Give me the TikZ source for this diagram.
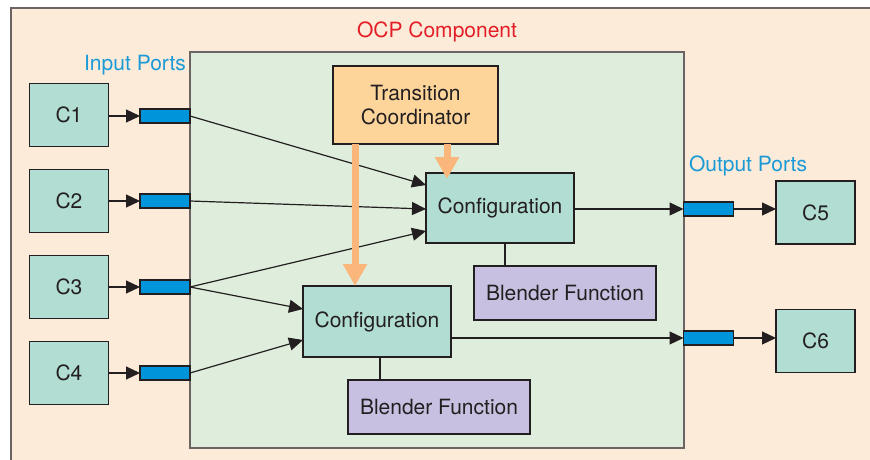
\documentclass[tikz,border=0pt]{standalone}
\usepackage{fontspec}
\setmainfont{TeX Gyre Heros}
\usetikzlibrary{arrows.meta}
\definecolor{peach}{HTML}{FDEBDA}
\definecolor{framegray}{HTML}{6B6462}
\definecolor{panelgreen}{HTML}{DFEEDC}
\definecolor{teal}{HTML}{B2DDD3}
\definecolor{coordorange}{HTML}{FDD59B}
\definecolor{lavender}{HTML}{C8C0E0}
\definecolor{portblue}{HTML}{0095DA}
\definecolor{labelblue}{HTML}{1B9AD6}
\definecolor{titlered}{HTML}{E41E26}
\definecolor{flow}{HTML}{FBB77B}
\definecolor{ink}{HTML}{231F20}
\tikzset{
  base/.style={draw=ink, line width=1.2pt, inner sep=0pt, outer sep=0pt, align=center,
    text=ink, font=\fontsize{21}{24}\selectfont},
  comp/.style={base, fill=teal, minimum width=79pt, minimum height=63pt},
  cfgbox/.style={base, fill=teal, minimum width=148pt, minimum height=70pt},
  blendbox/.style={base, fill=lavender, minimum width=182pt, minimum height=54pt},
  coordbox/.style={base, fill=coordorange, minimum width=165pt, minimum height=78pt},
  port/.style={base, fill=portblue, minimum width=50pt, minimum height=14pt},
  panel/.style={draw=framegray, line width=1.2pt, fill=panelgreen, inner sep=0pt,
    minimum width=494pt, minimum height=396pt},
  conn/.style={draw=ink, line width=1.2pt, -{Triangle[length=14pt,width=13pt]}},
  plain/.style={draw=ink, line width=1.2pt},
  flowarrow/.style={draw=flow, line width=7pt, -{Triangle[length=22pt,width=23pt]}},
  caption/.style={font=\fontsize{21}{24}\selectfont, inner sep=0pt}
}
\begin{document}
\begin{tikzpicture}[x=1pt, y=-1pt]
\useasboundingbox (0,0) rectangle (870,460);
\fill[white] (0,0) rectangle (870,460);
% backdrop with its frame on the top and left
\fill[peach] (11,8) rectangle (880,470);
\draw[framegray, line width=1.2pt] (11,470) -- (11,8) -- (880,8);

% component panel
\node[panel] (ocp) at (437,250) {};
\node[caption, text=titlered] (title) at (437,32) {OCP Component};
\node[caption, text=labelblue] (inlabel) at (135,65) {Input Ports};
\node[caption, text=labelblue] (outlabel) at (748,166) {Output Ports};

% outside components
\node[comp] (c1) at (69,115) {C1};
\node[comp] (c2) at (69,201) {C2};
\node[comp] (c3) at (69,287) {C3};
\node[comp] (c4) at (69,373) {C4};
\node[comp] (c5) at (815.5,212.5) {C5};
\node[comp] (c6) at (815.5,341) {C6};

% ports
\node[port] (p1) at (165,116) {};
\node[port] (p2) at (165,201) {};
\node[port] (p3) at (165,287) {};
\node[port] (p4) at (165,373) {};
\node[port] (q1) at (708.5,209) {};
\node[port] (q2) at (708.5,338) {};

% inner blocks
\node[coordbox] (trans) at (415.5,105) {Transition\\Coordinator};
\node[cfgbox] (cfg1) at (500,208) {Configuration};
\node[blendbox] (blend1) at (565,293) {Blender Function};
\node[cfgbox, minimum height=71pt] (cfg2) at (377,321.5) {Configuration};
\node[blendbox] (blend2) at (439,407) {Blender Function};

% configuration to blender links
\draw[plain] ([xshift=5pt]cfg1.south) -- ([xshift=5pt]cfg1.south |- blend1.north);
\draw[plain] ([xshift=3pt]cfg2.south) -- ([xshift=3pt]cfg2.south |- blend2.north);

% components into input ports
\draw[conn] (c1.east |- p1.west) -- (p1.west);
\draw[conn] (c2.east |- p2.west) -- (p2.west);
\draw[conn] (c3.east |- p3.west) -- (p3.west);
\draw[conn] (c4.east |- p4.west) -- (p4.west);

% input ports into configurations
\draw[conn] (p1.east) -- ([yshift=23pt]cfg1.west);
\draw[conn] (p2.east) -- ([yshift=-1pt]cfg1.west);
\draw[conn] (p3.east) -- ([yshift=-23pt]cfg1.west);
\draw[conn] (p3.east) -- ([yshift=12.5pt]cfg2.west);
\draw[conn] (p4.east) -- ([yshift=-18.5pt]cfg2.west);

% configurations to output ports and on to components
\draw[conn] (cfg1.east |- q1.west) -- (q1.west);
\draw[conn] (cfg2.east |- q2.west) -- (q2.west);
\draw[conn] (q1.east) -- (c5.west |- q1.east);
\draw[conn] (q2.east) -- (c6.west |- q2.east);

% coordinator control flows
\draw[flowarrow] (trans.south -| 355,0) -- (cfg2.north -| 355,0);
\draw[flowarrow] (trans.south -| 447,0) -- (447,179);
\end{tikzpicture}
\end{document}
